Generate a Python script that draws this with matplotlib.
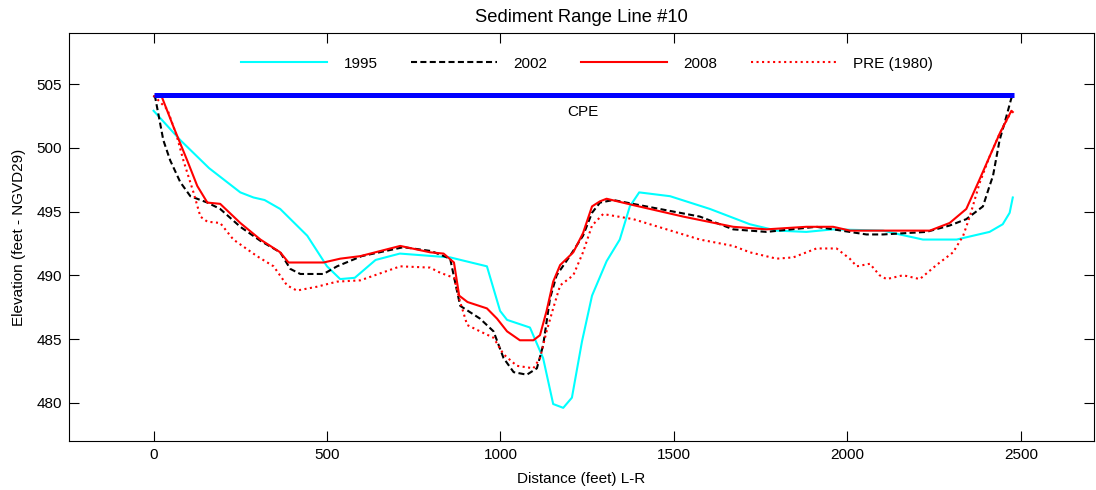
import matplotlib.pyplot as plt
import numpy as np

plt.rcParams['font.family'] = ['Liberation Sans', 'DejaVu Sans']
plt.rcParams['font.size'] = 11

# 1995 survey
x95 = [0, 77, 160, 250, 288, 320, 365, 443, 500, 538, 580, 640, 710, 855, 961, 999, 1019,
       1085, 1123, 1152, 1181, 1206, 1235, 1264, 1306, 1344, 1373, 1400, 1489, 1604, 1719,
       1796, 1882, 1959, 2103, 2151, 2218, 2315, 2410, 2448, 2468, 2477]
y95 = [502.9, 500.6, 498.4, 496.5, 496.1, 495.9, 495.2, 493.1, 490.7, 489.7, 489.8, 491.2,
       491.7, 491.4, 490.7, 487.2, 486.5, 485.9, 483.5, 479.9, 479.6, 480.4, 484.8, 488.4,
       491.1, 492.8, 495.4, 496.5, 496.2, 495.2, 494.0, 493.5, 493.4, 493.6, 493.5, 493.2,
       492.8, 492.8, 493.4, 494.0, 494.9, 496.1]

# 2002 survey
x02 = [0, 5, 28, 48, 77, 106, 155, 192, 250, 308, 365, 394, 423, 490, 529, 600, 720, 800,
       855, 869, 884, 941, 980, 1009, 1038, 1076, 1105, 1123, 1143, 1162, 1200, 1238, 1264,
       1287, 1325, 1420, 1575, 1671, 1767, 1911, 2055, 2103, 2228, 2295, 2343, 2391, 2410,
       2420, 2439, 2458, 2473, 2480]
y02 = [504.1, 503.9, 500.6, 499.0, 497.3, 496.2, 495.7, 495.2, 493.8, 492.7, 491.8, 490.5,
       490.1, 490.1, 490.7, 491.5, 492.2, 491.9, 491.3, 489.5, 487.6, 486.6, 485.6, 483.5,
       482.4, 482.2, 482.7, 484.5, 488.2, 490.0, 491.5, 493.1, 494.9, 495.7, 495.9, 495.4,
       494.6, 493.6, 493.4, 493.8, 493.2, 493.2, 493.4, 493.9, 494.4, 495.4, 497.0, 497.8,
       500.6, 502.4, 503.9, 504.1]

# 2008 survey
x08 = [25, 58, 97, 126, 155, 192, 250, 308, 365, 389, 490, 538, 596, 711, 797, 836, 866,
       881, 905, 961, 990, 1019, 1056, 1095, 1114, 1133, 1152, 1172, 1210, 1238, 1264, 1287,
       1306, 1383, 1527, 1671, 1767, 1882, 1959, 2008, 2132, 2238, 2295, 2343, 2381, 2410,
       2439, 2473, 2477]
y08 = [503.9, 501.6, 499.0, 497.0, 495.7, 495.6, 494.1, 492.8, 491.8, 491.0, 491.0, 491.3,
       491.5, 492.3, 491.8, 491.7, 491.0, 488.4, 487.9, 487.4, 486.6, 485.6, 484.9, 484.9,
       485.3, 487.2, 489.5, 490.8, 491.8, 493.3, 495.4, 495.8, 496.0, 495.5, 494.6, 493.8,
       493.6, 493.8, 493.8, 493.5, 493.5, 493.5, 494.1, 495.2, 497.5, 499.3, 501.1, 502.9,
       502.8]

# PRE (1980)
xpre = [0, 40, 68, 86, 115, 135, 155, 192, 230, 298, 346, 385, 413, 471, 529, 596, 711,
        797, 826, 866, 884, 904, 941, 980, 1009, 1047, 1095, 1114, 1133, 1152, 1172, 1210,
        1238, 1264, 1296, 1383, 1479, 1575, 1671, 1719, 1796, 1844, 1911, 1969, 2007, 2027,
        2065, 2093, 2113, 2161, 2209, 2257, 2305, 2334, 2353, 2381, 2410, 2439, 2468, 2478]
ypre = [504.1, 503.0, 500.8, 499.0, 496.5, 494.6, 494.2, 494.1, 492.8, 491.5, 490.7, 489.2,
        488.8, 489.1, 489.5, 489.6, 490.7, 490.6, 490.2, 489.8, 487.9, 486.1, 485.6, 485.1,
        483.8, 482.9, 482.7, 483.5, 485.6, 487.4, 489.2, 490.0, 491.8, 493.9, 494.8, 494.4,
        493.6, 492.8, 492.3, 491.8, 491.3, 491.4, 492.1, 492.1, 491.3, 490.7, 490.9, 490.0,
        489.7, 490.0, 489.7, 490.8, 491.8, 493.1, 494.6, 497.2, 499.3, 501.1, 502.6, 503.0]

cpe_x = [0, 2480]
cpe_y = [504.1, 504.1]

fig = plt.figure(figsize=(10.96, 4.90), dpi=100)
ax = fig.add_axes([68.6 / 1096, 1 - 441 / 490, 1025 / 1096, 408 / 490])

ax.plot(x95, y95, color='cyan', lw=1.5, label='1995')
ax.plot(x02, y02, 'k--', lw=1.5, dashes=(2.9, 1.6), label='2002')
ax.plot(x08, y08, color='red', lw=1.5, label='2008')
ax.plot(xpre, ypre, color='red', ls=':', lw=1.5, label='PRE (1980)')
ax.plot(cpe_x, cpe_y, color='blue', lw=3.6, solid_capstyle='butt')
ax.text(1238, 502.8, 'CPE', ha='center', va='center')

ax.set_xlim(-245, 2710)
ax.set_ylim(477, 509)
ax.set_xticks([0, 500, 1000, 1500, 2000, 2500])
ax.set_yticks([480, 485, 490, 495, 500, 505])
ax.tick_params(direction='in', top=True, right=True, length=7, width=0.8, pad=5)

ax.set_title('Sediment Range Line #10', pad=8)
ax.set_xlabel('Distance (feet) L-R', labelpad=7)
ax.set_ylabel('Elevation (feet - NGVD29)', labelpad=7)

ax.legend(loc='center', bbox_to_anchor=(0.506, 0.925), ncol=4, frameon=False,
          handlelength=5.6, handletextpad=1.1, columnspacing=2.2)

fig.savefig('out.png', dpi=100)
